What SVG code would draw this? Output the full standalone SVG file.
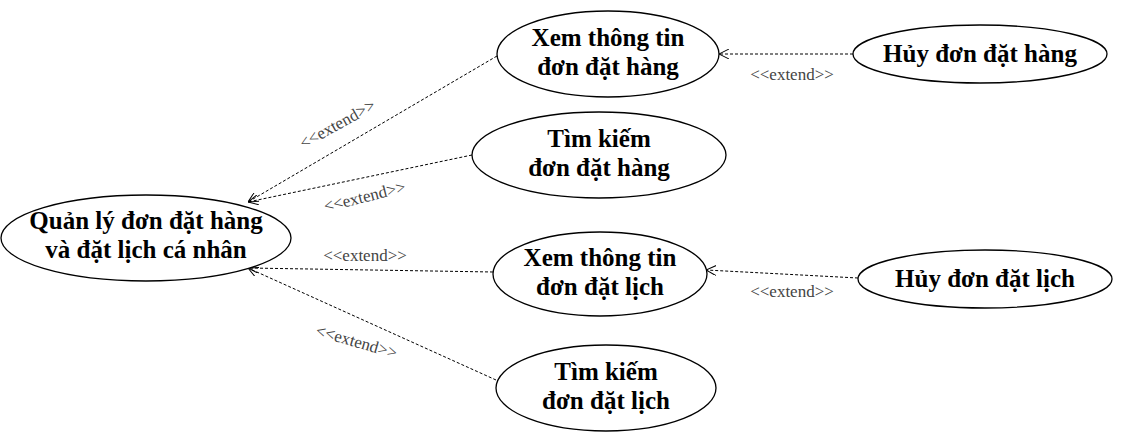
<svg xmlns="http://www.w3.org/2000/svg" width="1131" height="442" viewBox="0 0 1131 442">
<defs>
<marker id="open" viewBox="0 0 10 10" refX="10" refY="5" markerWidth="10" markerHeight="10" markerUnits="userSpaceOnUse" orient="auto">
<path d="M0,0 L10,5 L0,10" fill="none" stroke="#000" stroke-width="1"/>
</marker>
<style>
.uc{fill:#fff;stroke:#000;stroke-width:1.3}
.t{font-family:"Liberation Serif",serif;font-weight:bold;font-size:25px;fill:#000;text-anchor:middle}
.c{fill:none;stroke:#000;stroke-width:1;stroke-dasharray:3,2;marker-end:url(#open)}
.l{font-family:"Liberation Serif",serif;font-size:17px;fill:#444;text-anchor:middle}
</style>
</defs>
<rect width="1131" height="442" fill="#fff"/>
<g id="connectors">
<line class="c" x1="497" y1="56" x2="248" y2="202"/>
<line class="c" x1="472" y1="155" x2="248" y2="202"/>
<line class="c" x1="493" y1="272" x2="248" y2="268"/>
<line class="c" x1="496" y1="380" x2="248" y2="268"/>
<line class="c" x1="853" y1="54" x2="719" y2="54"/>
<line class="c" x1="858" y1="278" x2="706" y2="270"/>
<text class="l" transform="translate(340,129) rotate(-29)">&lt;&lt;extend&gt;&gt;</text>
<text class="l" transform="translate(366,202) rotate(-14)">&lt;&lt;extend&gt;&gt;</text>
<text class="l" x="365" y="261">&lt;&lt;extend&gt;&gt;</text>
<text class="l" transform="translate(355,347) rotate(16)">&lt;&lt;extend&gt;&gt;</text>
<text class="l" x="792" y="80">&lt;&lt;extend&gt;&gt;</text>
<text class="l" x="792" y="297">&lt;&lt;extend&gt;&gt;</text>
</g>
<g id="main">
<ellipse class="uc" cx="146" cy="238" rx="145" ry="43"/>
<text class="t" x="146" y="229">Quản lý đơn đặt hàng</text>
<text class="t" x="146" y="258">và đặt lịch cá nhân</text>
</g>
<g id="xem-hang">
<ellipse class="uc" cx="608" cy="54" rx="111" ry="43"/>
<text class="t" x="608" y="46">Xem thông tin</text>
<text class="t" x="608" y="75">đơn đặt hàng</text>
</g>
<g id="huy-hang">
<ellipse class="uc" cx="980" cy="54" rx="127" ry="29"/>
<text class="t" x="980" y="62">Hủy đơn đặt hàng</text>
</g>
<g id="tim-hang">
<ellipse class="uc" cx="599" cy="155" rx="127" ry="43"/>
<text class="t" x="599" y="147">Tìm kiếm</text>
<text class="t" x="599" y="176">đơn đặt hàng</text>
</g>
<g id="xem-lich">
<ellipse class="uc" cx="600" cy="274" rx="107" ry="42"/>
<text class="t" x="600" y="266">Xem thông tin</text>
<text class="t" x="600" y="295">đơn đặt lịch</text>
</g>
<g id="huy-lich">
<ellipse class="uc" cx="985" cy="279" rx="127" ry="29"/>
<text class="t" x="985" y="287">Hủy đơn đặt lịch</text>
</g>
<g id="tim-lich">
<ellipse class="uc" cx="606" cy="388" rx="110" ry="43"/>
<text class="t" x="606" y="380">Tìm kiếm</text>
<text class="t" x="606" y="409">đơn đặt lịch</text>
</g>
</svg>
